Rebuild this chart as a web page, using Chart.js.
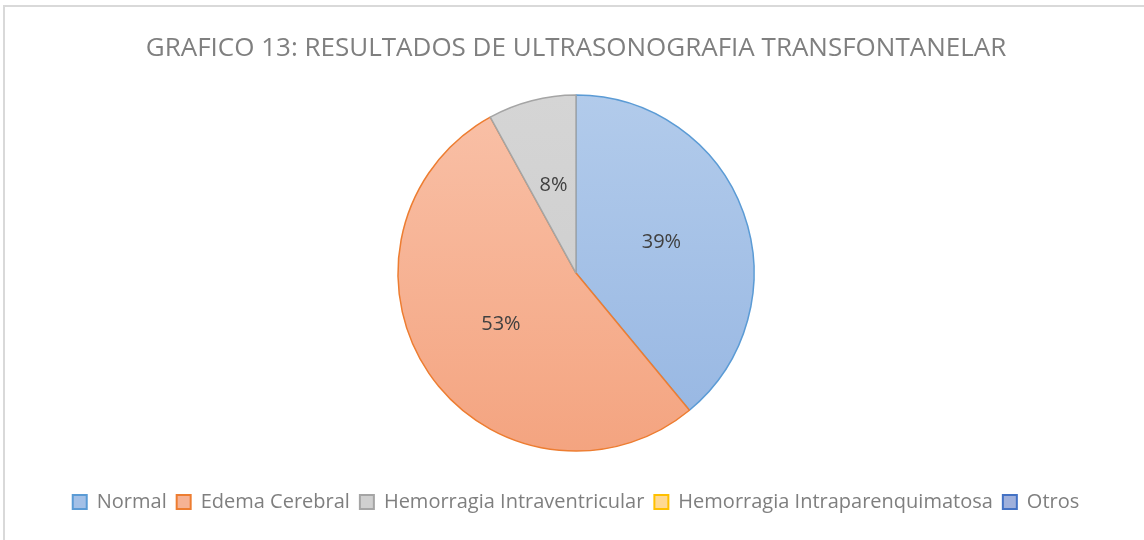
<!DOCTYPE html>
<html>
<head>
<meta charset="utf-8">
<script src="https://cdn.jsdelivr.net/npm/chart.js@4/dist/chart.umd.min.js"></script>
<style>
html,body{margin:0;padding:0;background:#fff;}
#wrap{position:absolute;left:0;top:0;width:1144px;height:540px;}
#frame{position:absolute;left:3px;top:5px;width:1141px;height:535px;border-left:2px solid #d9d9d9;border-top:2px solid #d9d9d9;box-sizing:border-box;pointer-events:none;}
</style>
</head>
<body>
<div id="wrap"><canvas id="c" width="1144" height="540"></canvas><div id="frame"></div></div>
<script>
const titleText = 'GRAFICO 13: RESULTADOS DE ULTRASONOGRAFIA TRANSFONTANELAR';
const categories = ['Normal', 'Edema Cerebral', 'Hemorragia Intraventricular', 'Hemorragia Intraparenquimatosa', 'Otros'];
const values = [39, 53, 8, 0, 0];
const labelsPct = ['39%', '53%', '8%', '', ''];

const topColors = ['#b2cbeb', '#f9c1a8', '#d5d5d5', '#ffdf9a', '#a9b9e0'];
const bottomColors = ['#96b6e2', '#f4a480', '#cbcbcb', '#ffd36a', '#8ea4d8'];
const borderColors = ['#5b9bd5', '#ed7d31', '#a5a5a5', '#ffc000', '#4472c4'];
const legendFill = ['#a3c0e7', '#f6b294', '#d0d0d0', '#ffd993', '#9fb0dc'];

const sliceLabels = {
  id: 'sliceLabels',
  afterDatasetsDraw(chart) {
    const ctx = chart.ctx;
    const meta = chart.getDatasetMeta(0);
    ctx.save();
    ctx.font = '20px "Open Sans", "DejaVu Sans", sans-serif';
    ctx.fillStyle = '#404040';
    ctx.textAlign = 'center';
    ctx.textBaseline = 'middle';
    meta.data.forEach((arc, i) => {
      if (!values[i]) return;
      const p = arc.getProps(['x','y','startAngle','endAngle','outerRadius'], true);
      const mid = (p.startAngle + p.endAngle) / 2;
      const r = p.outerRadius * 0.51;
      ctx.fillText(labelsPct[i], p.x + Math.cos(mid) * r, p.y + Math.sin(mid) * r);
    });
    ctx.restore();
  }
};

new Chart(document.getElementById('c'), {
  type: 'pie',
  data: {
    labels: categories,
    datasets: [{
      data: values,
      radius: 178,
      backgroundColor(ctx) {
        const ca = ctx.chart.chartArea;
        if (!ca) return topColors[ctx.dataIndex];
        const g = ctx.chart.ctx.createLinearGradient(0, 95, 0, 451);
        g.addColorStop(0, topColors[ctx.dataIndex]);
        g.addColorStop(1, bottomColors[ctx.dataIndex]);
        return g;
      },
      borderColor: borderColors,
      borderWidth(ctx) { return values[ctx.dataIndex] ? 1.5 : 0; },
      hoverOffset: 0
    }]
  },
  options: {
    responsive: false,
    animation: false,
    rotation: 0,
    layout: { padding: { top: 0, bottom: 18, left: 8, right: 0 } },
    plugins: {
      tooltip: { enabled: false },
      title: {
        display: true,
        text: titleText,
        color: '#7f7f7f',
        font: { family: '"Open Sans", "DejaVu Sans", sans-serif', size: 26, weight: 'normal' },
        padding: { top: 33, bottom: 0 }
      },
      legend: {
        position: 'bottom',
        labels: {
          color: '#7f7f7f',
          font: { family: '"Open Sans", "DejaVu Sans", sans-serif', size: 20 },
          boxWidth: 14,
          boxHeight: 14,
          padding: 10,
          generateLabels(chart) {
            return categories.map((c, i) => ({
              text: c,
              fillStyle: legendFill[i],
              strokeStyle: borderColors[i],
              lineWidth: 2,
              fontColor: '#7f7f7f',
              hidden: false,
              index: i
            }));
          }
        }
      }
    }
  },
  plugins: [sliceLabels]
});
</script>
</body>
</html>
